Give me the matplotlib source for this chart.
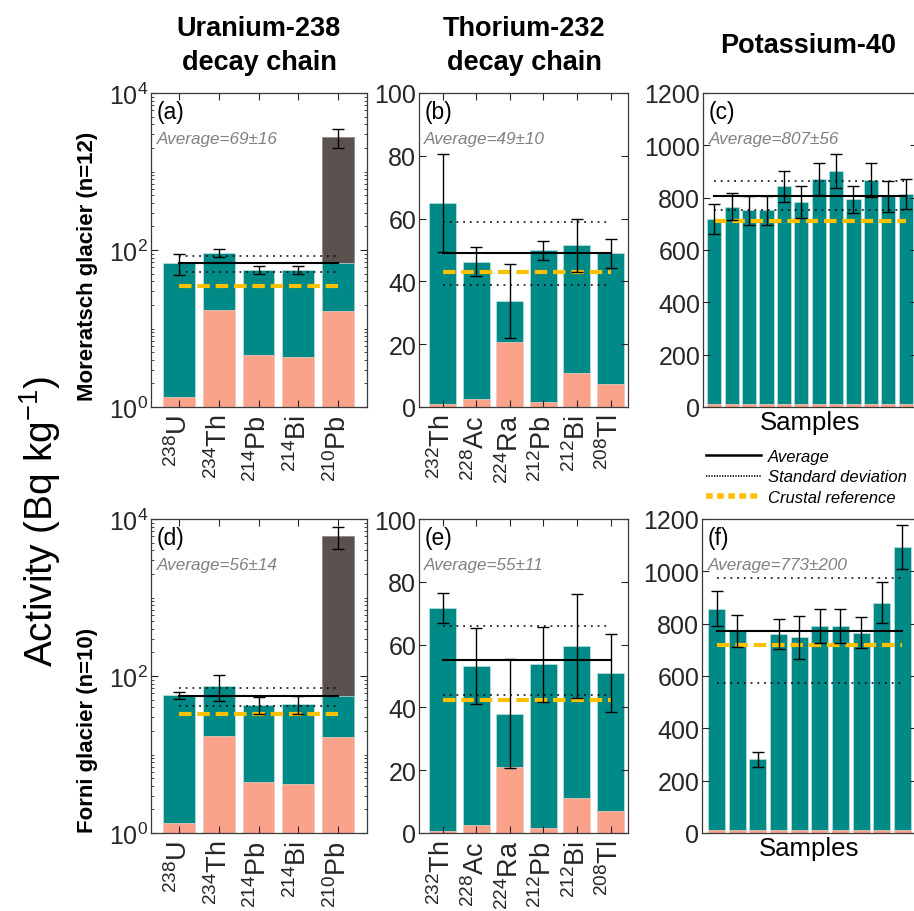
import numpy as np
import matplotlib
matplotlib.use('Agg')
import matplotlib.pyplot as plt
from matplotlib.ticker import FixedLocator, NullFormatter, LogFormatterMathtext
from matplotlib.lines import Line2D

plt.rcParams['font.family'] = ['Liberation Sans', 'DejaVu Sans']
plt.rcParams['mathtext.fontset'] = 'custom'
plt.rcParams['mathtext.rm'] = 'Liberation Sans'
plt.rcParams['mathtext.it'] = 'Liberation Sans:italic'
plt.rcParams['mathtext.bf'] = 'Liberation Sans:bold'

# ---- data (Bq/kg) ----
u_labels = [r'$^{238}$U', r'$^{234}$Th', r'$^{214}$Pb', r'$^{214}$Bi', r'$^{210}$Pb']
th_labels = [r'$^{232}$Th', r'$^{228}$Ac', r'$^{224}$Ra', r'$^{212}$Pb', r'$^{212}$Bi', r'$^{208}$Tl']

# Moreratsch glacier
mor_u = [68, 92, 56, 56, 69]
mor_u_pink = [1.33, 17.4, 4.6, 4.3, 16.9]
mor_pb210_total = 2730
mor_u_err = [20, 10, 7, 7, 750]
mor_th = [65, 46.3, 33.7, 49.9, 51.5, 49.0]
mor_th_pink = [0.8, 2.7, 20.8, 1.6, 10.9, 7.2]
mor_th_err = [15.5, 4.6, 11.8, 3.0, 8.5, 4.6]
mor_k = [719, 766, 751, 751, 844, 784, 872, 901, 793, 869, 805, 814]
mor_k_err = [57, 52, 57, 57, 59, 60, 62, 64, 53, 65, 58, 58]
mor_k_pink = [10] * 12

# Forni glacier
for_u = [56.8, 74.6, 43.2, 44.0, 55]
for_u_pink = [1.34, 17.3, 4.5, 4.2, 16.8]
for_pb210_total = 6030
for_u_err = [6.4, 27, 10.5, 11.5, 1850]
for_th = [71.7, 53.2, 38.0, 53.7, 59.5, 51.0]
for_th_pink = [0.7, 2.7, 21.0, 1.5, 11.1, 7.1]
for_th_err = [4.7, 12.2, 17.4, 11.9, 16.5, 12.4]
for_k = [857, 772, 281, 760, 748, 792, 792, 766, 880, 1093]
for_k_err = [67, 62, 30, 57, 83, 64, 64, 60, 78, 83]
for_k_pink = [10] * 10

# averages, std and crustal reference per panel
stats_avg = {'a': 69, 'b': 49, 'c': 807, 'd': 56, 'e': 55, 'f': 773}
stats_sd = {'a': 16, 'b': 10, 'c': 56, 'd': 14, 'e': 11, 'f': 200}
crustal = {'a': 35, 'b': 43, 'c': 712, 'd': 33, 'e': 42.5, 'f': 720}

teal = '#008A87'
pink = '#FBA28B'
dark = '#5B5250'
yellow = '#FFC000'
axcol = '#262626'
edge = '#bfe0df'

fig = plt.figure(figsize=(9.14, 9.12), dpi=100)
W, H = 914.0, 912.0


def make_ax(left, top, right, bottom):
    return fig.add_axes([left / W, (H - bottom) / H, (right - left) / W, (bottom - top) / H])


def style_ax(ax):
    for s in ax.spines.values():
        s.set_color('#3a3a3a')
        s.set_linewidth(0.9)
    ax.tick_params(which='both', direction='in', top=True, right=True, colors=axcol,
                   labelsize=18, pad=2)
    ax.tick_params(which='major', length=5, width=0.8)
    ax.tick_params(which='minor', length=2.5, width=0.6)


def draw_lines(ax, key, n):
    a, s = stats_avg[key], stats_sd[key]
    ax.plot([1, n], [a + s, a + s], color='k', ls=(0, (1.2, 3.2)), lw=1.1, zorder=4)
    ax.plot([1, n], [a - s, a - s], color='k', ls=(0, (1.2, 3.2)), lw=1.1, zorder=4)
    ax.plot([1, n], [a, a], color='k', lw=1.5, zorder=4)
    ax.plot([1, n], [crustal[key], crustal[key]], color=yellow, ls=(0, (3, 1.4)), lw=3, zorder=5)


def texts(ax, key, label):
    ax.text(0.028, 0.94, '(' + key + ')', transform=ax.transAxes, fontsize=16.5,
            ha='left', va='center', color='k')
    ax.text(0.025, 0.855, label, transform=ax.transAxes, fontsize=12.3, style='italic',
            color='#808080', ha='left', va='center')


def u_panel(ax, key, vals, pinks, pb_total, err):
    x = np.arange(1, len(vals) + 1)
    ax.set_yscale('log')
    ax.bar(x[-1], pb_total - 1, bottom=1, width=0.8, color=dark, edgecolor='#8a8280', lw=0.5)
    ax.bar(x, np.array(vals) - 1, bottom=1, width=0.8, color=teal, edgecolor=edge, lw=0.5)
    ax.bar(x, np.array(pinks) - 1, bottom=1, width=0.8, color=pink, edgecolor='#fdd0c4', lw=0.5)
    tops = list(vals[:-1]) + [pb_total]
    ax.errorbar(x, tops, yerr=err, fmt='none', ecolor='k', elinewidth=1, capsize=4.5,
                capthick=1, zorder=6)
    draw_lines(ax, key, len(vals))
    ax.set_ylim(1, 1e4)
    ax.set_xlim(0.285, 5.74)
    ax.yaxis.set_major_locator(FixedLocator([1, 100, 10000]))
    ax.yaxis.set_major_formatter(LogFormatterMathtext())
    minors = [m * 10 ** d for d in range(4) for m in range(1, 10)]
    minors = [v for v in minors if v not in (1, 100, 10000)]
    ax.yaxis.set_minor_locator(FixedLocator(minors))
    ax.yaxis.set_minor_formatter(NullFormatter())
    ax.set_xticks(x)
    ax.set_xticklabels(u_labels, rotation=90)
    style_ax(ax)
    ax.tick_params(axis='x', labelsize=19.5, pad=5)


def th_panel(ax, key, vals, pinks, err):
    x = np.arange(1, len(vals) + 1)
    ax.bar(x, vals, width=0.8, color=teal, edgecolor=edge, lw=0.5)
    ax.bar(x, pinks, width=0.8, color=pink, edgecolor='#fdd0c4', lw=0.5)
    ax.errorbar(x, vals, yerr=err, fmt='none', ecolor='k', elinewidth=1, capsize=4.5,
                capthick=1, zorder=6)
    draw_lines(ax, key, len(vals))
    ax.set_ylim(0, 100)
    ax.set_xlim(0.3, 6.52)
    ax.set_yticks([0, 20, 40, 60, 80, 100])
    ax.set_xticks(x)
    ax.set_xticklabels(th_labels, rotation=90)
    style_ax(ax)
    ax.tick_params(axis='x', labelsize=19.5, pad=5)


def k_panel(ax, key, vals, pinks, err, xlim):
    x = np.arange(1, len(vals) + 1)
    ax.bar(x, vals, width=0.82, color=teal, edgecolor=edge, lw=0.5)
    ax.bar(x, pinks, width=0.82, color=pink, edgecolor='#fdd0c4', lw=0.5)
    ax.errorbar(x, vals, yerr=err, fmt='none', ecolor='k', elinewidth=1, capsize=4.5,
                capthick=1, zorder=6)
    draw_lines(ax, key, len(vals))
    ax.set_ylim(0, 1200)
    ax.set_xlim(*xlim)
    ax.set_yticks(range(0, 1201, 200))
    ax.set_xticks([])
    ax.set_xlabel('Samples', fontsize=18.5, labelpad=2)
    style_ax(ax)


ax_a = make_ax(151, 94, 367, 408)
ax_b = make_ax(419, 94, 628, 408)
ax_c = make_ax(703, 94, 917, 408)
ax_d = make_ax(151, 520, 367, 834)
ax_e = make_ax(419, 520, 628, 834)
ax_f = make_ax(702, 520, 917, 834)

u_panel(ax_a, 'a', mor_u, mor_u_pink, mor_pb210_total, mor_u_err)
th_panel(ax_b, 'b', mor_th, mor_th_pink, mor_th_err)
k_panel(ax_c, 'c', mor_k, mor_k_pink, mor_k_err, (0.35, 12.65))
u_panel(ax_d, 'd', for_u, for_u_pink, for_pb210_total, for_u_err)
th_panel(ax_e, 'e', for_th, for_th_pink, for_th_err)
k_panel(ax_f, 'f', for_k, for_k_pink, for_k_err, (0.29, 10.71))

for ax, key in zip([ax_a, ax_b, ax_c, ax_d, ax_e, ax_f], 'abcdef'):
    texts(ax, key, 'Average=%g\u00b1%g' % (stats_avg[key], stats_sd[key]))

# column titles
fig.text(259 / W, 1 - 46 / H, 'Uranium-238\ndecay chain', ha='center', va='center',
         fontsize=19.5, fontweight='bold', linespacing=1.45)
fig.text(524 / W, 1 - 46 / H, 'Thorium-232\ndecay chain', ha='center', va='center',
         fontsize=19.5, fontweight='bold', linespacing=1.45)
fig.text(808 / W, 1 - 46 / H, 'Potassium-40', ha='center', va='center',
         fontsize=19.5, fontweight='bold')

# row labels
fig.text(88 / W, 1 - 401 / H, 'Moreratsch glacier (n=12)', rotation=90, ha='center',
         va='bottom', fontsize=16, fontweight='bold')
fig.text(88 / W, 1 - 833 / H, 'Forni glacier (n=10)', rotation=90, ha='center',
         va='bottom', fontsize=16, fontweight='bold')
fig.text(40 / W, 1 - 521 / H, r'Activity (Bq kg$^{-1}$)', rotation=90, ha='center',
         va='center', fontsize=28)

# legend
handles = [Line2D([], [], color='k', lw=1.8),
           Line2D([], [], color='k', ls=(0, (0.8, 0.8)), lw=1.2),
           Line2D([], [], color=yellow, ls=(0, (1.2, 0.8)), lw=4)]
fig.legend(handles, ['Average', 'Standard deviation', 'Crustal reference'],
           loc='upper left', bbox_to_anchor=(706 / W, 1 - 450 / H), frameon=False,
           prop={'size': 12, 'style': 'italic'}, handlelength=3.3, handletextpad=0.4,
           labelspacing=0.32, borderpad=0, borderaxespad=0)

fig.savefig('out.png', dpi=100)
